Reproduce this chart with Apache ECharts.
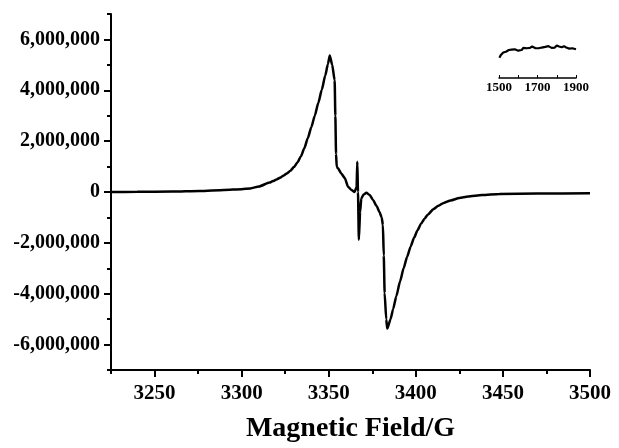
<!DOCTYPE html>
<html>
<head>
<meta charset="utf-8">
<script src="https://cdn.jsdelivr.net/npm/echarts@6/dist/echarts.min.js"></script>
<style>
  html, body { margin: 0; padding: 0; background: #fff; }
  #chart { width: 619px; height: 448px; }
</style>
</head>
<body>
<div id="chart"></div>
<script>
// main EPR spectrum, field in G, intensity in a.u.
const fieldG = [
  3225, 3240, 3260, 3276, 3290, 3300, 3305, 3310, 3316, 3318,
  3320, 3322, 3324, 3326, 3328, 3330, 3332, 3334, 3336, 3338,
  3340, 3342, 3344, 3346, 3348, 3349.5, 3350.6, 3352, 3353.4, 3353.8,
  3354.2, 3354.6, 3355.3, 3357.2, 3359.2, 3361.1, 3363, 3364.9, 3366, 3366.4,
  3366.8, 3367.3, 3368, 3368.7, 3370, 3371.6, 3373.5, 3375.4, 3377.5, 3379.2,
  3380.4, 3381.1, 3381.6, 3382.1, 3383, 3383.6, 3385.5, 3387, 3388.8, 3391,
  3393, 3395, 3397, 3399, 3401, 3403, 3405, 3407, 3410, 3413,
  3416, 3420, 3425, 3430, 3438, 3448, 3470, 3500
]
const intensity = [
  0, 5e3, 15e3, 40e3, 80e3, 110e3, 140e3, 220e3, 370e3, 430e3,
  490e3, 560e3, 640e3, 730e3, 840e3, 980e3, 1160e3, 1400e3, 1720e3, 2120e3,
  2550e3, 3000e3, 3500e3, 4020e3, 4580e3, 5020e3, 5370e3, 5000e3, 4390e3, 3000e3,
  1500e3, 990e3, 930e3, 730e3, 550e3, 210e3, 80e3, 0, 200e3, 1190e3,
  0, -1880e3, -800e3, -250e3, -100e3, -30e3, -120e3, -310e3, -550e3, -800e3,
  -1000e3, -1300e3, -2500e3, -3970e3, -5000e3, -5370e3, -5000e3, -4600e3, -4100e3, -3500e3,
  -3000e3, -2550e3, -2150e3, -1800e3, -1500e3, -1250e3, -1050e3, -880e3, -680e3, -540e3,
  -430e3, -330e3, -240e3, -180e3, -120e3, -80e3, -60e3, -50e3
]
const yLabels = [-6e6, -4e6, -2e6, 0, 2e6, 4e6, 6e6]
const xLabels = [3250, 3300, 3350, 3400, 3450, 3500]

// inset, low field region
const insetField = [
  1502, 1510, 1516, 1522, 1530, 1536, 1545, 1551, 1557, 1565,
  1573, 1582, 1592, 1600, 1609, 1618, 1626, 1636, 1645, 1653,
  1661, 1672, 1682, 1690, 1699, 1706, 1713, 1722, 1730, 1740,
  1749, 1757, 1765, 1773, 1781, 1790, 1800, 1806, 1812, 1819,
  1826, 1838, 1849, 1857, 1865, 1873, 1881, 1890, 1900
]
const insetIntensity = [
  58, 66, 63, 73, 69, 75, 72, 80, 77, 81,
  76, 82, 84, 78, 83, 80, 86, 81, 85, 88,
  86, 90, 94, 85, 82, 85, 83, 87, 84, 89,
  86, 91, 88, 86, 90, 87, 93, 88, 90, 85,
  88, 91, 87, 89, 84, 88, 85, 86, 82
]
const insetLabels = [1500, 1700, 1900]

const font = 'Liberation Serif'
const black = '#000'

// plot box of the main chart
const L = 111, R = 29, T = 14, B = 78
const pxPerG = (619 - L - R) / 275
const pxPerM = (448 - T - B) / 14

function fmt(v) {
  return Number(v).toLocaleString('en-US')
}

function hiddenAxis(grid) {
  return { type: 'value', gridIndex: grid, show: false, min: 0, max: 1 }
}

// axis that only draws ticks
function tickAxis(grid, min, max, interval, len, pos) {
  return {
    type: 'value',
    gridIndex: grid,
    min: min,
    max: max,
    interval: interval,
    position: pos,
    axisLine: { show: false, onZero: false },
    axisTick: { show: true, length: len, lineStyle: { color: black, width: 2 } },
    axisLabel: { show: false },
    splitLine: { show: false }
  }
}

const chart = echarts.init(document.getElementById('chart'), null, { renderer: 'canvas' })

const option = {
  backgroundColor: '#fff',
  animation: false,
  grid: [
    { left: L, right: R, top: T, bottom: B },
    { left: 499, width: 77, top: 43, height: 35 },
    // even-million ticks on y
    { left: L, right: R, top: T + pxPerM, bottom: B + pxPerM },
    // 50 G ticks on x
    { left: L + 25 * pxPerG, right: R, top: T, bottom: B }
  ],
  xAxis: [
    {
      type: 'value',
      gridIndex: 0,
      min: 3225,
      max: 3500,
      name: 'Magnetic Field/G',
      nameLocation: 'middle',
      nameGap: 45,
      nameTextStyle: { color: black, fontFamily: font, fontWeight: 'bold', fontSize: 28 },
      axisLine: { onZero: false, lineStyle: { color: black, width: 2 } },
      axisTick: { show: false },
      axisLabel: {
        color: black, fontFamily: font, fontWeight: 'bold', fontSize: 21, margin: 13,
        customValues: xLabels.slice(),
        formatter: v => String(v)
      },
      splitLine: { show: false }
    },
    {
      type: 'value',
      gridIndex: 1,
      min: 1500,
      max: 1900,
      interval: 100,
      axisLine: { onZero: false, lineStyle: { color: black, width: 1.5 } },
      axisTick: { show: true, inside: true, length: 3, lineStyle: { color: black, width: 1 } },
      axisLabel: {
        color: black, fontFamily: font, fontWeight: 'bold', fontSize: 13, margin: 3,
        formatter: v => (insetLabels.indexOf(v) >= 0 ? String(v) : '')
      },
      splitLine: { show: false }
    },
    hiddenAxis(2),
    tickAxis(3, 3250, 3500, 50, 7, 'bottom'),
    // minor x ticks, field shifted by 3225 so they fall on 3225, 3275, ...
    tickAxis(0, 0, 275, 50, 4, 'bottom')
  ],
  yAxis: [
    {
      type: 'value',
      gridIndex: 0,
      min: -7e6,
      max: 7e6,
      axisLine: { show: true, onZero: false, lineStyle: { color: black, width: 2 } },
      axisTick: { show: false },
      axisLabel: {
        color: black, fontFamily: font, fontWeight: 'bold', fontSize: 20, margin: 11,
        customValues: yLabels.slice(),
        formatter: fmt
      },
      splitLine: { show: false }
    },
    { type: 'value', gridIndex: 1, min: 0, max: 100, show: false },
    tickAxis(2, -6e6, 6e6, 2e6, 7, 'left'),
    hiddenAxis(3),
    // minor y ticks, shifted by 7e6 so they fall on odd millions
    tickAxis(0, 0, 14e6, 2e6, 4, 'left')
  ],
  series: [
    {
      type: 'line',
      xAxisIndex: 0,
      yAxisIndex: 0,
      data: fieldG.map((x, i) => [x, intensity[i]]),
      showSymbol: false,
      smooth: 0.2,
      smoothMonotone: 'x',
      lineStyle: { color: black, width: 2.5 }
    },
    {
      type: 'line',
      xAxisIndex: 1,
      yAxisIndex: 1,
      data: insetField.map((x, i) => [x, insetIntensity[i]]),
      showSymbol: false,
      lineStyle: { color: black, width: 2.2 }
    }
  ]
}

chart.setOption(option)
</script>
</body>
</html>
